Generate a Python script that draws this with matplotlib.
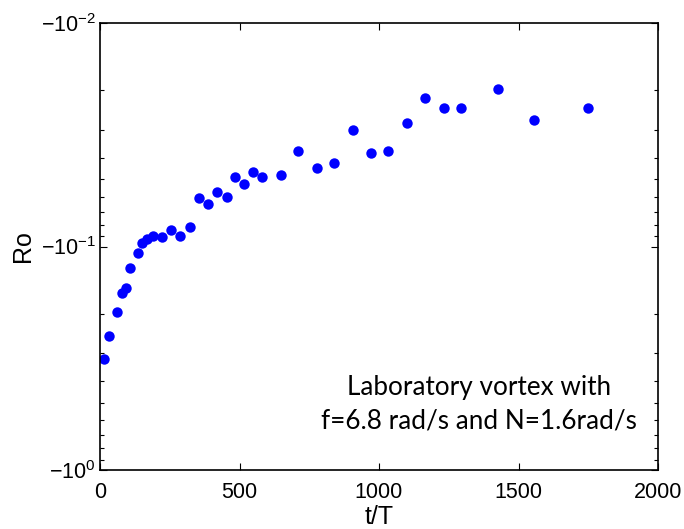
import numpy as np
import matplotlib
matplotlib.use("Agg")
import matplotlib.pyplot as plt
from matplotlib.ticker import FuncFormatter, LogLocator, FixedLocator

# Data (t/T, Ro)
t_over_T = [14, 31, 62, 78, 94, 109, 135, 150, 170, 191, 223, 255, 286, 323,
            356, 387, 418, 454, 485, 517, 548, 580, 648, 710, 778, 840, 908,
            971, 1033, 1101, 1164, 1232, 1295, 1425, 1557, 1750]
Ro = [-0.320, -0.252, -0.197, -0.161, -0.153, -0.125, -0.107, -0.0962, -0.0926,
      -0.0897, -0.0910, -0.0843, -0.0897, -0.0818, -0.0607, -0.0645, -0.0570,
      -0.0598, -0.0487, -0.0527, -0.0466, -0.0489, -0.0479, -0.0375, -0.0444,
      -0.0424, -0.0300, -0.0380, -0.0373, -0.0281, -0.0216, -0.0241, -0.0241,
      -0.0197, -0.0272, -0.0241]
x_ticks = [0, 500, 1000, 1500, 2000]
annotation = "Laboratory vortex with\nf=6.8 rad/s and N=1.6rad/s"

plt.rcParams['font.family'] = ['Liberation Sans', 'DejaVu Sans']
plt.rcParams['mathtext.fontset'] = 'custom'
plt.rcParams['mathtext.rm'] = 'Liberation Sans'
plt.rcParams['mathtext.it'] = 'Liberation Sans'
plt.rcParams['mathtext.bf'] = 'Liberation Sans'

fig = plt.figure(figsize=(6.84, 5.29), dpi=100)
ax = fig.add_axes([100/684, 59/529, 558/684, 447/529])

mag = [-r for r in Ro]
ax.plot(t_over_T, mag, 'o', color=(0, 0, 1), markersize=7.5, markeredgewidth=0)

ax.set_yscale('log')
ax.set_ylim(1, 0.01)
ax.set_xlim(0, 2000)
ax.set_xticks(x_ticks)
ax.yaxis.set_major_locator(FixedLocator([1, 0.1, 0.01]))
ax.yaxis.set_minor_locator(LogLocator(base=10, subs=np.arange(2, 10)))
ax.yaxis.set_major_formatter(FuncFormatter(
    lambda v, p: r'$-10^{%d}$' % int(round(np.log10(v)))))
ax.yaxis.set_minor_formatter(FuncFormatter(lambda v, p: ''))

ax.tick_params(which='both', direction='in', top=True, right=True,
               labelsize=15.5, width=0.8, color='black')
ax.tick_params(which='major', length=5)
ax.tick_params(which='minor', length=3)
ax.tick_params(axis='x', pad=9)
ax.tick_params(axis='y', pad=3)
for s in ax.spines.values():
    s.set_linewidth(1.2)

ax.set_xlabel('t/T', fontsize=18, labelpad=1)
ax.set_ylabel('Ro', fontsize=18, labelpad=4)

ax.text(0.679, 0.147, annotation, transform=ax.transAxes, ha='center',
        va='center', fontsize=18.8, family=['Lato', 'DejaVu Sans'],
        linespacing=1.4)

fig.savefig('out.png', dpi=100)
